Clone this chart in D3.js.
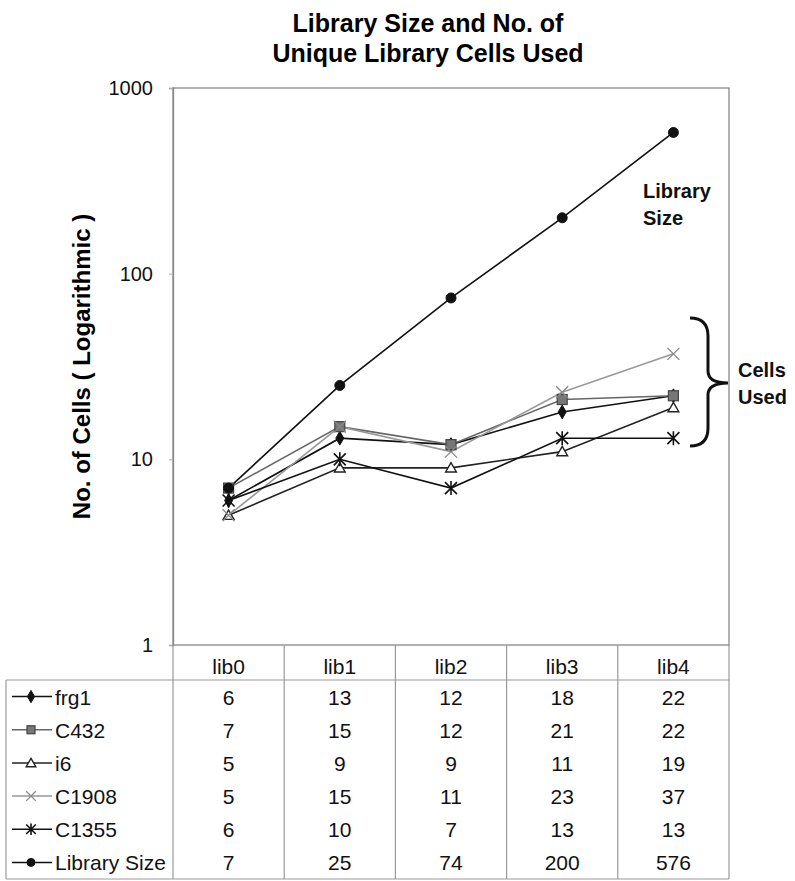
<!DOCTYPE html>
<html>
<head>
<meta charset="utf-8">
<script src="https://cdn.jsdelivr.net/npm/d3@7"></script>
<style>
  body { margin: 0; background: #fff; }
  svg { display: block; font-family: "Liberation Sans", Arial, sans-serif; }
</style>
</head>
<body>
<svg id="chart" width="795" height="881"></svg>
<script>
// Libraries and per-library counts
const categories = ["lib0", "lib1", "lib2", "lib3", "lib4"];
const seriesNames = ["frg1", "C432", "i6", "C1908", "C1355", "Library Size"];
const frg1 = [6, 13, 12, 18, 22];
const c432 = [7, 15, 12, 21, 22];
const i6 = [5, 9, 9, 11, 19];
const c1908 = [5, 15, 11, 23, 37];
const c1355 = [6, 10, 7, 13, 13];
const librarySize = [7, 25, 74, 200, 576];
const yTicks = [1, 10, 100, 1000];

const seriesValues = [frg1, c432, i6, c1908, c1355, librarySize];
const seriesStyle = [
  { line: "#111", marker: "diamond", fill: "#111", stroke: "#111" },
  { line: "#666", marker: "square", fill: "#777", stroke: "#444" },
  { line: "#222", marker: "triangle", fill: "#fff", stroke: "#222" },
  { line: "#999", marker: "cross", fill: "none", stroke: "#888" },
  { line: "#111", marker: "asterisk", fill: "none", stroke: "#111" },
  { line: "#111", marker: "circle", fill: "#111", stroke: "#111" }
];

const svg = d3.select("#chart");
const plot = { left: 173, right: 729, top: 88, bottom: 645 };
const table = { left: 6, headerBottom: 680, bottom: 879 };

const x = d3.scaleBand().domain(categories).range([plot.left, plot.right]);
const cx = c => x(c) + x.bandwidth() / 2;
const y = d3.scaleLog().domain([1, 1000]).range([plot.bottom, plot.top]);

// Title
svg.append("text")
  .attr("x", 428).attr("y", 32)
  .attr("text-anchor", "middle")
  .attr("font-size", 25).attr("font-weight", "bold")
  .text("Library Size and No. of");
svg.append("text")
  .attr("x", 428).attr("y", 62)
  .attr("text-anchor", "middle")
  .attr("font-size", 25).attr("font-weight", "bold")
  .text("Unique Library Cells Used");

// Plot frame
svg.append("rect")
  .attr("x", plot.left).attr("y", plot.top)
  .attr("width", plot.right - plot.left).attr("height", plot.bottom - plot.top)
  .attr("fill", "none").attr("stroke", "#888").attr("stroke-width", 1.3);

// Y axis
const yAxis = svg.append("g")
  .attr("transform", `translate(${plot.left},0)`)
  .call(d3.axisLeft(y).tickValues(yTicks).tickFormat(d3.format("d")).tickSize(4).tickPadding(16));
yAxis.select(".domain").attr("stroke", "#888").attr("stroke-width", 1.3);
yAxis.selectAll(".tick line").attr("stroke", "#aaa");
yAxis.selectAll(".tick text")
  .attr("font-size", 20).attr("fill", "#111")
  .attr("font-family", "Liberation Sans, Arial, sans-serif");

// Y axis title
svg.append("text")
  .attr("transform", `translate(90,${(plot.top + plot.bottom) / 2}) rotate(-90)`)
  .attr("text-anchor", "middle")
  .attr("font-size", 24).attr("font-weight", "bold")
  .text("No. of Cells ( Logarithmic )");

// Marker shapes
function drawMarker(g, type, px, py, st, scale) {
  const s = scale || 1;
  if (type === "diamond") {
    g.append("path").attr("d", d3.symbol(d3.symbolDiamond, 55 * s)())
      .attr("transform", `translate(${px},${py})`).attr("fill", st.fill).attr("stroke", st.stroke);
  } else if (type === "square") {
    g.append("rect").attr("x", px - 5 * s).attr("y", py - 5 * s)
      .attr("width", 10 * s).attr("height", 10 * s)
      .attr("fill", st.fill).attr("stroke", st.stroke).attr("stroke-width", 1.2);
  } else if (type === "triangle") {
    g.append("path").attr("d", d3.symbol(d3.symbolTriangle, 50 * s)())
      .attr("transform", `translate(${px},${py + 1})`)
      .attr("fill", st.fill).attr("stroke", st.stroke).attr("stroke-width", 1.4);
  } else if (type === "cross") {
    const r = 6 * s;
    g.append("path").attr("d", `M${px - r},${py - r}L${px + r},${py + r}M${px - r},${py + r}L${px + r},${py - r}`)
      .attr("stroke", st.stroke).attr("stroke-width", 1.3);
  } else if (type === "asterisk") {
    const r = 6 * s;
    g.append("path").attr("d", `M${px - r},${py - r}L${px + r},${py + r}M${px - r},${py + r}L${px + r},${py - r}M${px},${py - r - 1}L${px},${py + r + 1}`)
      .attr("stroke", st.stroke).attr("stroke-width", 1.6);
  } else if (type === "circle") {
    g.append("circle").attr("cx", px).attr("cy", py).attr("r", 5 * s)
      .attr("fill", st.fill).attr("stroke", st.stroke);
  }
}

// Series lines and markers
const line = d3.line().x((d, i) => cx(categories[i])).y(d => y(d));
const seriesG = svg.append("g");
seriesValues.forEach((vals, k) => {
  const st = seriesStyle[k];
  seriesG.append("path").datum(vals)
    .attr("d", line).attr("fill", "none")
    .attr("stroke", st.line).attr("stroke-width", 1.6);
});
seriesValues.forEach((vals, k) => {
  const st = seriesStyle[k];
  vals.forEach((v, i) => drawMarker(seriesG, st.marker, cx(categories[i]), y(v), st));
});

// Annotations
const ann = svg.append("g").attr("font-weight", "bold").attr("font-size", 20).attr("fill", "#111");
ann.append("text").attr("x", 643).attr("y", 198).text("Library");
ann.append("text").attr("x", 643).attr("y", 225).text("Size");
ann.append("text").attr("x", 738).attr("y", 377).text("Cells");
ann.append("text").attr("x", 738).attr("y", 404).text("Used");

// Curly brace spanning the cells-used series
const bTop = 318, bBot = 446, bMid = 383, bx = 708;
svg.append("path")
  .attr("d", `M690,${bTop} Q${bx},${bTop} ${bx},${bTop + 18} L${bx},${bMid - 12} Q${bx},${bMid} 728,${bMid}
              Q${bx},${bMid} ${bx},${bMid + 12} L${bx},${bBot - 18} Q${bx},${bBot} 690,${bBot}`)
  .attr("fill", "none").attr("stroke", "#111").attr("stroke-width", 3);

// Data table
const tg = svg.append("g");
const rowH = (table.bottom - table.headerBottom) / seriesNames.length;
const gridColor = "#999";
const tableFont = 21;

// Horizontal rules
tg.append("line").attr("x1", table.left).attr("x2", plot.right)
  .attr("y1", table.headerBottom).attr("y2", table.headerBottom)
  .attr("stroke", gridColor).attr("stroke-width", 1.2);
tg.append("line").attr("x1", table.left).attr("x2", plot.right)
  .attr("y1", table.bottom).attr("y2", table.bottom)
  .attr("stroke", gridColor).attr("stroke-width", 1.2);
// Vertical rules
tg.append("line").attr("x1", table.left).attr("x2", table.left)
  .attr("y1", table.headerBottom).attr("y2", table.bottom)
  .attr("stroke", gridColor).attr("stroke-width", 1.2);
const colEdges = categories.map(c => x(c)).concat([plot.right]);
colEdges.forEach(ex => {
  tg.append("line").attr("x1", ex).attr("x2", ex)
    .attr("y1", plot.bottom).attr("y2", table.bottom)
    .attr("stroke", gridColor).attr("stroke-width", 1.2);
});

// Header labels
categories.forEach(c => {
  tg.append("text").attr("x", cx(c)).attr("y", 674)
    .attr("text-anchor", "middle").attr("font-size", tableFont).attr("fill", "#111")
    .text(c);
});

// Rows: legend key, name, values
seriesNames.forEach((name, k) => {
  const rowMid = table.headerBottom + rowH * (k + 0.5);
  const st = seriesStyle[k];
  tg.append("line").attr("x1", 12).attr("x2", 52).attr("y1", rowMid).attr("y2", rowMid)
    .attr("stroke", st.line).attr("stroke-width", 1.5);
  drawMarker(tg, st.marker, 31, rowMid, st, 0.8);
  tg.append("text").attr("x", 55).attr("y", rowMid + 8)
    .attr("font-size", tableFont).attr("fill", "#111").text(name);
  seriesValues[k].forEach((v, i) => {
    tg.append("text").attr("x", cx(categories[i])).attr("y", rowMid + 8)
      .attr("text-anchor", "middle").attr("font-size", tableFont).attr("fill", "#111")
      .text(v);
  });
});
</script>
</body>
</html>
